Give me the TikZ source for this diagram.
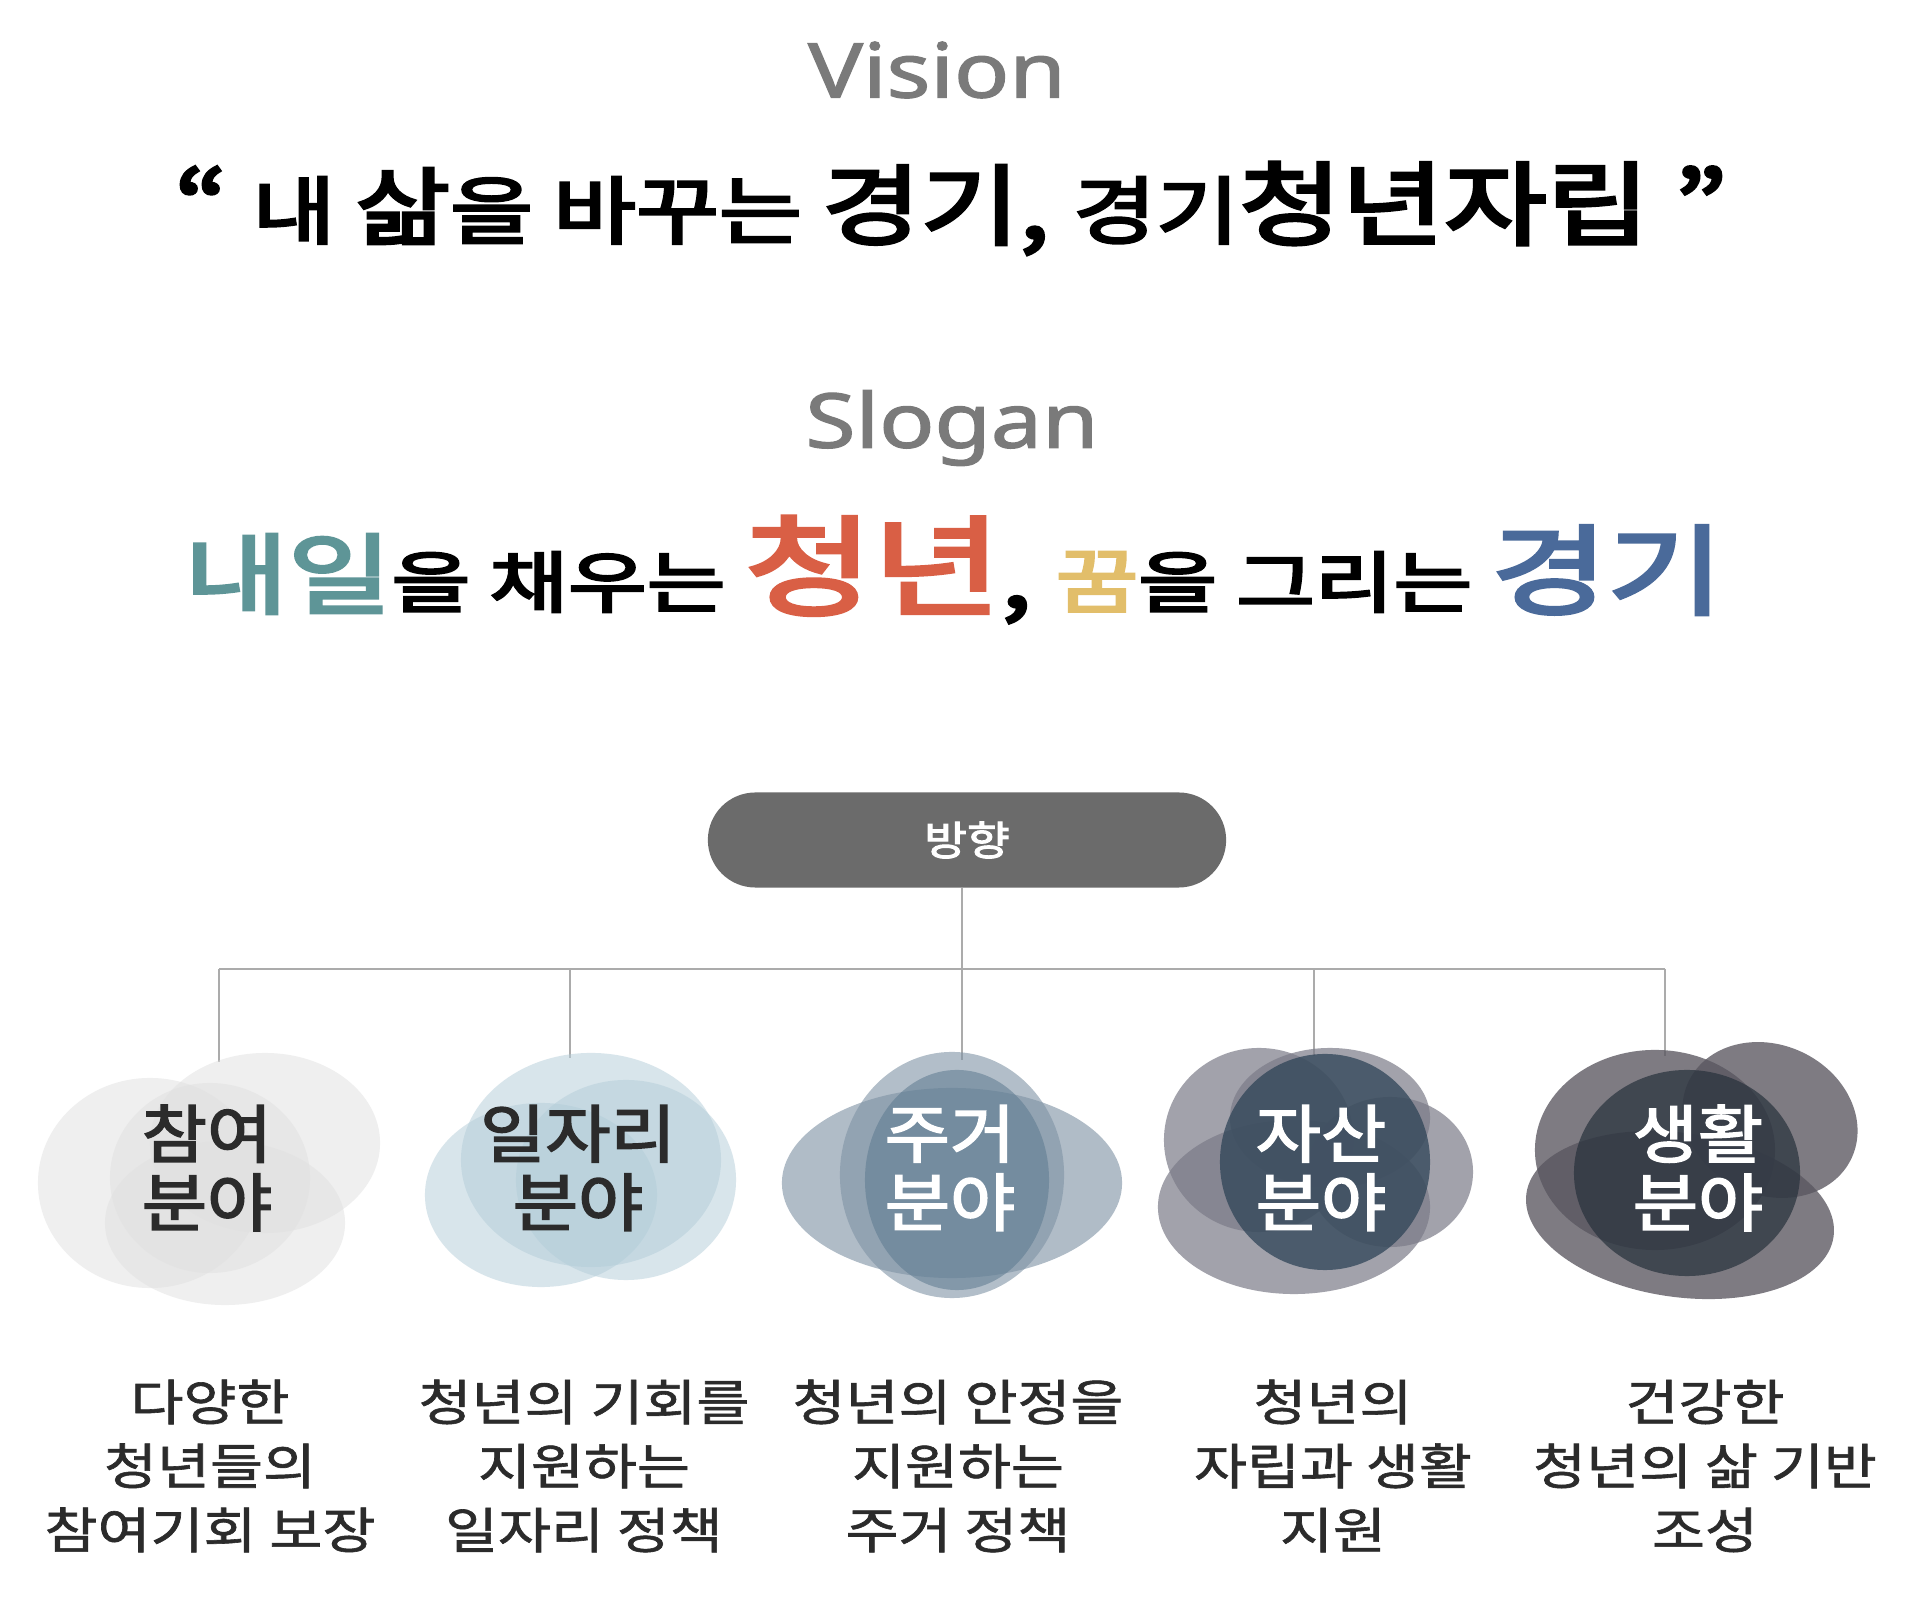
\documentclass[tikz,border=0pt]{standalone}
\usepackage{fontspec}
\usepackage{graphicx}
\setmainfont{Noto Sans CJK KR}
\newfontfamily\latinfont[FakeBold=1.6]{Noto Sans}
\newfontfamily\krbig[FakeBold=3.5]{Noto Sans CJK KR}
\newfontfamily\krmid[FakeBold=2.5]{Noto Sans CJK KR}
\newfontfamily\krdesc[FakeBold=1.2]{Noto Sans CJK KR}
\newcommand\fsz[1]{\fontsize{#1}{#1}\selectfont}
\definecolor{titlegray}{HTML}{7A7A7A}
\definecolor{sloteal}{HTML}{5E9597}
\definecolor{slored}{HTML}{D95F45}
\definecolor{slogold}{HTML}{E2BE6A}
\definecolor{sloblue}{HTML}{4A6A9A}
\definecolor{pillgray}{HTML}{6B6B6B}
\definecolor{linegray}{HTML}{ABABAB}
\definecolor{txtdark}{HTML}{2B2B2B}
\definecolor{cloudA}{HTML}{E0E0E0}
\definecolor{cloudB}{HTML}{B3CDD9}
\definecolor{cloudCa}{HTML}{8FA0B0}
\definecolor{cloudCb}{HTML}{7F93A5}
\definecolor{cloudCc}{HTML}{5D7A90}
\definecolor{cloudDa}{HTML}{7B7B88}
\definecolor{cloudDb}{HTML}{2F4457}
\definecolor{cloudEa}{HTML}{5A5760}
\definecolor{cloudEb}{HTML}{27313C}
\begin{document}
\begin{tikzpicture}[x=0.01cm,y=-0.01cm,
  heading/.style={font=\latinfont\fsz{21.5}, text=titlegray, xscale=1.21, inner sep=0pt},
  bigline/.style={font=\krbig, text=black, inner sep=0pt, anchor=base},
  pill/.style={fill=pillgray, rounded corners=0.475cm, minimum width=5.18cm, minimum height=0.95cm, inner sep=0pt, text=white, font=\krmid\fsz{11.5}},
  conn/.style={draw=linegray, line width=0.7pt},
  fieldlab/.style={font=\krmid\fontsize{18}{19.5}\selectfont, align=center, xscale=1.12, inner sep=0pt},
  desc/.style={font=\krdesc\fontsize{14}{18.2}\selectfont, text=txtdark, align=center, xscale=1.17, inner sep=0pt},
]
\useasboundingbox (0,0) rectangle (1920,1598);
\fill[white] (0,0) rectangle (1920,1598);

% headings
\node[heading] (vision) at (937,70) {Vision};
\node[bigline, xscale=1.22] (visiontext) at (951,238) {\fsz{26}“ \fsz{21}내 \fsz{24}삶\fsz{21}을 바꾸는 \fsz{25}경기, \fsz{21}경기\fsz{26}청년자립 ”};
\node[heading] (slogan) at (952,428) {Slogan};
\node[bigline, xscale=1.28] (slogantext) at (954,607) {{\color{sloteal}\fsz{25}내일}\fsz{19}을 채우는 {\color{slored}\fsz{31}청년}\fsz{24}, {\color{slogold}\fsz{20}꿈}\fsz{19}을 그리는 {\color{sloblue}\fsz{28}경기}};

% direction pill
\node[pill] (dir) at (967,840) {\scalebox{1.15}[1]{방향}};

% connectors
\coordinate (b1) at (219,969);
\coordinate (b2) at (570,969);
\coordinate (b3) at (962,969);
\coordinate (b4) at (1314,969);
\coordinate (b5) at (1665,969);
\coordinate (d1) at (219,1062);
\coordinate (d2) at (570,1058);
\coordinate (d3) at (962,1060);
\coordinate (d4) at (1314,1056);
\coordinate (d5) at (1665,1056);
\draw[conn] (b3 |- dir.south) -- (b3);
\draw[conn] (b1) -- (b5);
\draw[conn] (b1) -- (d1);
\draw[conn] (b2) -- (d2);
\draw[conn] (b3) -- (d3);
\draw[conn] (b4) -- (d4);
\draw[conn] (b5) -- (d5);

% cloud 1
\begin{scope}[shift={(210,1178)}, fill opacity=0.5]
  \fill[cloudA] (-60,5) ellipse [x radius=1.12cm, y radius=1.05cm];
  \fill[cloudA] (55,-35) ellipse [x radius=1.15cm, y radius=0.9cm];
  \fill[cloudA] (15,45) ellipse [x radius=1.2cm, y radius=0.82cm];
  \fill[cloudA] (0,0) ellipse [x radius=1.0cm, y radius=0.95cm];
\end{scope}
% cloud 2
\begin{scope}[shift={(581,1170)}, fill opacity=0.5]
  \fill[cloudB] (10,-10) ellipse [x radius=1.3cm, y radius=1.07cm];
  \fill[cloudB] (-40,25) ellipse [x radius=1.16cm, y radius=0.92cm];
  \fill[cloudB] (45,10) ellipse [x radius=1.1cm, y radius=1.0cm];
\end{scope}
% cloud 3
\begin{scope}[shift={(952,1175)}]
  \fill[cloudCa, fill opacity=0.7] (0,8) ellipse [x radius=1.7cm, y radius=0.95cm];
  \fill[cloudCb, fill opacity=0.6] (0,0) ellipse [x radius=1.12cm, y radius=1.23cm];
  \fill[cloudCc, fill opacity=0.55] (5,5) ellipse [x radius=0.92cm, y radius=1.1cm];
\end{scope}
% cloud 4
\begin{scope}[fill opacity=0.7]
  \fill[cloudDa] (1259,1140) ellipse [x radius=0.95cm, y radius=0.92cm];
  \fill[cloudDa] (1294,1207) ellipse [x radius=1.36cm, y radius=0.87cm];
  \fill[cloudDa] (1390,1172) ellipse [x radius=0.83cm, y radius=0.75cm];
  \fill[cloudDa] (1330,1118) ellipse [x radius=1.0cm, y radius=0.7cm];
\end{scope}
\fill[cloudDb, fill opacity=0.75] (1325,1162) ellipse [x radius=1.05cm, y radius=1.08cm];
% cloud 5
\begin{scope}[shift={(1690,1170)}, fill opacity=0.78]
  \fill[cloudEa] (-35,-20) ellipse [x radius=1.2cm, y radius=1.0cm];
  \fill[cloudEa, rotate around={-25:(80,-50)}] (80,-50) ellipse [x radius=0.9cm, y radius=0.75cm];
  \fill[cloudEa, rotate around={-8:(-10,45)}] (-10,45) ellipse [x radius=1.55cm, y radius=0.82cm];
\end{scope}
\fill[cloudEb, fill opacity=0.7] (1687,1173) ellipse [x radius=1.13cm, y radius=1.03cm];

% field labels
\node[fieldlab, text=txtdark] (lab1) at (207,1168) {참여\\분야};
\node[fieldlab, text=txtdark] (lab2) at (578,1168) {일자리\\분야};
\node[fieldlab, text=white] (lab3) at (950,1168) {주거\\분야};
\node[fieldlab, text=white] (lab4) at (1321,1168) {자산\\분야};
\node[fieldlab, text=white] (lab5) at (1698,1168) {생활\\분야};

% descriptions
\node[desc] (desc1) at (210,1466) {다양한\\청년들의\\참여기회 보장};
\node[desc] (desc2) at (584,1466) {청년의 기회를\\지원하는\\일자리 정책};
\node[desc] (desc3) at (958,1466) {청년의 안정을\\지원하는\\주거 정책};
\node[desc] (desc4) at (1333,1466) {청년의\\자립과 생활\\지원};
\node[desc] (desc5) at (1705,1466) {건강한\\청년의 삶 기반\\조성};
\end{tikzpicture}
\end{document}
